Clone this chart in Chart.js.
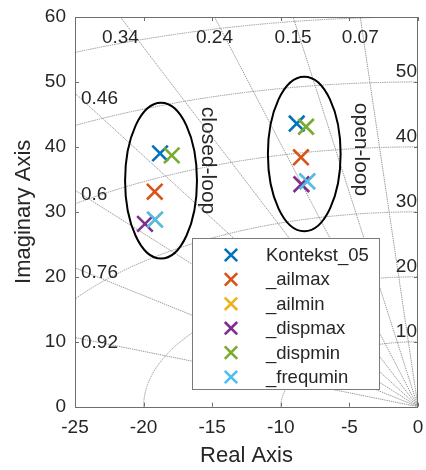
<!DOCTYPE html>
<html>
<head>
<meta charset="utf-8">
<script src="https://cdn.jsdelivr.net/npm/chart.js@4.4.1/dist/chart.umd.min.js"></script>
<style>
  html, body { margin: 0; padding: 0; background: #ffffff; overflow: hidden; }
  #wrap { width: 426px; height: 470px; }
  canvas { display: block; }
</style>
</head>
<body>
<div id="wrap"><canvas id="pz" width="426" height="470"></canvas></div>
<script>
// Pole locations of each variant: [closed-loop pole, open-loop pole]
const seriesNames = ['Kontekst_05', '_ailmax', '_ailmin', '_dispmax', '_dispmin', '_frequmin'];
const kontekstRe = [-18.80, -8.84];
const kontekstIm = [39.0, 43.6];
const ailmaxRe = [-19.19, -8.53];
const ailmaxIm = [33.1, 38.4];
const ailminRe = [-19.17, -8.07];
const ailminIm = [28.8, 34.7];
const dispmaxRe = [-19.90, -8.50];
const dispmaxIm = [28.15, 34.25];
const dispminRe = [-17.95, -8.16];
const dispminIm = [38.7, 43.1];
const frequminRe = [-19.17, -8.07];
const frequminIm = [28.8, 34.7];

// Axis ticks
const xTicks = [-25, -20, -15, -10, -5, 0];
const yTicks = [0, 10, 20, 30, 40, 50, 60];

// s-plane grid: damping ratios and natural frequencies
const dampingValues = [0.07, 0.15, 0.24, 0.34, 0.46, 0.6, 0.76, 0.92];
const freqValues = [10, 20, 30, 40, 50, 60];
const freqLabelValues = [10, 20, 30, 40, 50];

// Groups of poles circled on the plot
const groupNames = ['closed-loop', 'open-loop'];
const groupCenterRe = [-18.73, -8.29];
const groupCenterIm = [34.8, 38.9];
const groupRadiusRe = [2.62, 2.65];
const groupRadiusIm = [12.0, 11.9];
const groupTextRe = [-15.3, -4.2];
const groupTextIm = [37.9, 39.6];

const seriesColors = ['#0072BD', '#D95319', '#EDB120', '#7E2F8E', '#77AC30', '#4DBEEE'];
const FONT = "'Liberation Sans', Arial, Helvetica, sans-serif";
const TEXT = '#262626';

const reList = [kontekstRe, ailmaxRe, ailminRe, dispmaxRe, dispminRe, frequminRe];
const imList = [kontekstIm, ailmaxIm, ailminIm, dispmaxIm, dispminIm, frequminIm];

// later series are plotted on top of earlier ones
const datasets = seriesNames.map((name, i) => ({
  label: name,
  order: seriesNames.length - i,
  data: reList[i].map((re, k) => ({ x: re, y: imList[i][k] })),
  showLine: false,
  pointStyle: 'crossRot',
  pointRadius: 11,
  pointHoverRadius: 11,
  pointBorderWidth: 2.6,
  borderColor: seriesColors[i],
  backgroundColor: seriesColors[i]
}));

function noScalePadding(s) {
  s.paddingLeft = 0; s.paddingRight = 0; s.paddingTop = 0; s.paddingBottom = 0;
}

const PLOT_RIGHT_GAP = 8;

// Damping lines, frequency arcs and their labels
const sGridPlugin = {
  id: 'sGrid',
  afterLayout(chart) {
    // keep the axes box close to the right edge of the canvas
    const a = chart.chartArea, x = chart.scales.x;
    const right = chart.width - PLOT_RIGHT_GAP;
    if (Math.abs(a.right - right) > 0.5) {
      a.right = right;
      a.width = right - a.left;
      x.right = right;
      x.width = right - x.left;
      x.configure();
    }
  },
  beforeDatasetsDraw(chart) {
    const { ctx, chartArea: a, scales: { x, y } } = chart;
    const x0 = x.getPixelForValue(0), y0 = y.getPixelForValue(0);
    ctx.save();
    ctx.beginPath();
    ctx.rect(a.left, a.top, a.right - a.left, a.bottom - a.top);
    ctx.clip();
    ctx.strokeStyle = '#8f8f8f';
    ctx.lineWidth = 0.9;
    ctx.setLineDash([1.4, 0.8]);
    freqValues.forEach(r => {
      const rx = x0 - x.getPixelForValue(-r);
      const ry = y0 - y.getPixelForValue(r);
      ctx.beginPath();
      ctx.ellipse(x0, y0, rx, ry, 0, Math.PI, 1.5 * Math.PI);
      ctx.stroke();
    });
    [0].concat(dampingValues).forEach(z => {
      const R = 200;
      ctx.beginPath();
      ctx.moveTo(x0, y0);
      ctx.lineTo(x.getPixelForValue(-z * R), y.getPixelForValue(Math.sqrt(1 - z * z) * R));
      ctx.stroke();
    });
    ctx.restore();

    ctx.save();
    ctx.fillStyle = TEXT;
    ctx.font = '19px ' + FONT;
    const xMin = x.min, yMax = y.max;
    dampingValues.forEach(z => {
      const slope = Math.sqrt(1 - z * z) / z;
      const yAtLeft = -xMin * slope;
      if (yAtLeft > yMax) {
        const xv = -yMax / slope;
        ctx.textAlign = 'center';
        ctx.textBaseline = 'middle';
        ctx.fillText(String(z), x.getPixelForValue(xv), a.top + 21);
      } else {
        ctx.textAlign = 'left';
        ctx.textBaseline = 'middle';
        ctx.fillText(String(z), a.left + 6, y.getPixelForValue(yAtLeft) + 5);
      }
    });
    ctx.textAlign = 'right';
    ctx.textBaseline = 'alphabetic';
    freqLabelValues.forEach(r => {
      ctx.fillText(String(r), a.right - 1, y.getPixelForValue(r) - 4.5);
    });
    ctx.restore();
  },
  afterDatasetsDraw(chart) {
    const { ctx, scales: { x, y } } = chart;
    ctx.save();
    // circled groups
    ctx.strokeStyle = '#000000';
    ctx.lineWidth = 2;
    groupCenterRe.forEach((cx, i) => {
      const px = x.getPixelForValue(cx), py = y.getPixelForValue(groupCenterIm[i]);
      const rx = x.getPixelForValue(cx + groupRadiusRe[i]) - px;
      const ry = py - y.getPixelForValue(groupCenterIm[i] + groupRadiusIm[i]);
      ctx.beginPath();
      ctx.ellipse(px, py, rx, ry, 0, 0, 2 * Math.PI);
      ctx.stroke();
    });
    // group captions, rotated
    ctx.fillStyle = TEXT;
    ctx.font = '21px ' + FONT;
    ctx.textAlign = 'center';
    ctx.textBaseline = 'middle';
    groupNames.forEach((name, i) => {
      ctx.save();
      ctx.translate(x.getPixelForValue(groupTextRe[i]), y.getPixelForValue(groupTextIm[i]));
      ctx.rotate(Math.PI / 2);
      ctx.fillText(name, 0, 0);
      ctx.restore();
    });

    // legend box
    const L = 192, T = 238, W = 187, H = 151;
    ctx.fillStyle = '#ffffff';
    ctx.fillRect(L, T, W, H);
    ctx.strokeStyle = '#7a7a7a';
    ctx.lineWidth = 1;
    ctx.strokeRect(L + 0.5, T + 0.5, W, H);
    ctx.font = '18.5px ' + FONT;
    ctx.textAlign = 'left';
    ctx.textBaseline = 'middle';
    chart.data.datasets.forEach((ds, i) => {
      const cy = T + 17 + i * 24.4;
      const cx = L + 39;
      const d = 6.2;
      ctx.strokeStyle = ds.borderColor;
      ctx.lineWidth = 2.6;
      ctx.beginPath();
      ctx.moveTo(cx - d, cy - d); ctx.lineTo(cx + d, cy + d);
      ctx.moveTo(cx - d, cy + d); ctx.lineTo(cx + d, cy - d);
      ctx.stroke();
      ctx.fillStyle = TEXT;
      ctx.fillText(ds.label, L + 74, cy + 1);
    });
    ctx.restore();
  },
  afterDraw(chart) {
    const { ctx, chartArea: a, scales: { x, y } } = chart;
    ctx.save();
    ctx.strokeStyle = '#6e6e6e';
    ctx.lineWidth = 1;
    ctx.strokeRect(Math.round(a.left) + 0.5, Math.round(a.top) + 0.5,
      Math.round(a.right - a.left) - 1, Math.round(a.bottom - a.top));
    const tl = 4;
    ctx.beginPath();
    xTicks.forEach(v => {
      const px = Math.round(x.getPixelForValue(v)) + 0.5;
      ctx.moveTo(px, a.bottom); ctx.lineTo(px, a.bottom - tl);
      ctx.moveTo(px, a.top); ctx.lineTo(px, a.top + tl);
    });
    yTicks.forEach(v => {
      const py = Math.round(y.getPixelForValue(v)) + 0.5;
      ctx.moveTo(a.left, py); ctx.lineTo(a.left + tl, py);
      ctx.moveTo(a.right, py); ctx.lineTo(a.right - tl, py);
    });
    ctx.stroke();
    ctx.restore();
  }
};

new Chart(document.getElementById('pz'), {
  type: 'scatter',
  data: { datasets },
  options: {
    responsive: false,
    animation: false,
    devicePixelRatio: 1,
    layout: { padding: { top: 17, right: PLOT_RIGHT_GAP, left: 0, bottom: 0 } },
    plugins: { legend: { display: false }, tooltip: { enabled: false } },
    scales: {
      x: {
        type: 'linear',
        min: -25, max: 0,
        afterBuildTicks: s => { s.ticks = xTicks.map(v => ({ value: v })); },
        afterFit: s => { s.height = 63.3; noScalePadding(s); },
        grid: { display: false, drawTicks: false },
        border: { display: false },
        ticks: { padding: 10, color: TEXT, font: { family: FONT, size: 19 }, maxRotation: 0 },
        title: { display: true, text: 'Real Axis', color: TEXT, font: { family: FONT, size: 22 }, padding: { top: 0, bottom: 1 } }
      },
      y: {
        type: 'linear',
        min: 0, max: 60,
        afterBuildTicks: s => { s.ticks = yTicks.map(v => ({ value: v })); },
        afterFit: s => { s.width = 75; noScalePadding(s); },
        grid: { display: false, drawTicks: false },
        border: { display: false },
        ticks: { padding: 9, color: TEXT, font: { family: FONT, size: 19 } },
        title: { display: true, text: 'Imaginary Axis', color: TEXT, font: { family: FONT, size: 22 }, padding: { top: 11, bottom: 0 } }
      }
    }
  },
  plugins: [sGridPlugin]
});
</script>
</body>
</html>
